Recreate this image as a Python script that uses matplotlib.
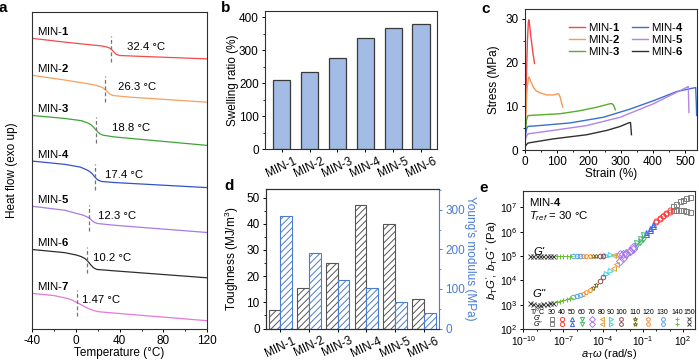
import numpy as np
import matplotlib
matplotlib.use("Agg")
import matplotlib.pyplot as plt
from matplotlib.ticker import MultipleLocator, FixedLocator, NullFormatter

plt.rcParams['font.family'] = ['Liberation Sans', 'DejaVu Sans']
plt.rcParams['mathtext.fontset'] = 'custom'
plt.rcParams['mathtext.rm'] = 'Liberation Sans'
plt.rcParams['mathtext.it'] = 'Liberation Sans:italic'
plt.rcParams['mathtext.bf'] = 'Liberation Sans:bold'
plt.rcParams['font.size'] = 8.5
plt.rcParams['axes.unicode_minus'] = False
plt.rcParams['axes.linewidth'] = 0.8
plt.rcParams['axes.edgecolor'] = '#303030'
plt.rcParams['xtick.major.size'] = 2.5
plt.rcParams['ytick.major.size'] = 2.5
plt.rcParams['xtick.minor.size'] = 1.5
plt.rcParams['ytick.minor.size'] = 1.5
plt.rcParams['xtick.major.width'] = 0.7
plt.rcParams['ytick.major.width'] = 0.7
plt.rcParams['xtick.major.pad'] = 2
plt.rcParams['ytick.major.pad'] = 2
plt.rcParams['hatch.linewidth'] = 0.7

# ---------------- data ----------------
# (a) DSC traces, heat flow in arbitrary units (offset stacked)
dsc_names = ['1', '2', '3', '4', '5', '6', '7']
dsc_colors = ['#f24a4a', '#f5a060', '#3fa33a', '#3452c4', '#a87ae6', '#2e2e2e', '#e27ad9']
dsc_T = [
    [-40, -10, 10, 24, 28, 31, 33, 35, 37, 40, 60, 120],
    [-40, -10, 10, 18, 22, 25, 27, 29, 31, 34, 50, 120],
    [-40, -10, 5, 11, 14, 16, 18, 20, 22, 25, 35, 120],
    [-40, -10, 4, 10, 13, 15, 17, 19, 21, 24, 35, 120],
    [-40, -10, 1, 6, 9, 11, 13, 15, 17, 20, 35, 120],
    [-40, -10, 1, 5, 8, 10, 12, 14, 16, 19, 35, 120],
    [-40, -20, -8, -3, 1, 5, 9, 13, 17, 21, 40, 120],
]
dsc_h = [
    [291.3, 287.5, 285.2, 283.6, 282.7, 281.5, 279.8, 277.3, 275.2, 274.1, 273.2, 270.7],
    [254.3, 249.5, 246.0, 244.3, 243.0, 241.5, 239.8, 237.5, 235.5, 234.0, 232.3, 227.3],
    [214.0, 211.0, 208.8, 206.5, 204.5, 202.5, 200.0, 197.5, 195.6, 194.2, 192.5, 184.0],
    [168.3, 165.0, 162.3, 159.5, 157.5, 155.5, 152.8, 150.3, 148.8, 147.8, 146.8, 141.7],
    [123.0, 119.0, 115.7, 114.3, 113.0, 112.0, 110.5, 108.5, 106.8, 105.7, 104.0, 96.7],
    [79.7, 76.5, 74.0, 72.5, 70.8, 69.0, 66.5, 63.8, 61.5, 59.7, 58.3, 51.3],
    [35.7, 33.5, 30.7, 28.8, 26.5, 24.2, 21.8, 19.8, 18.3, 17.3, 15.5, 8.3],
]
tg = [32.4, 26.3, 18.8, 17.4, 12.3, 10.2, 1.47]

# (b) swelling ratio
samples = ['MIN-1', 'MIN-2', 'MIN-3', 'MIN-4', 'MIN-5', 'MIN-6']
swelling = [210, 235, 277, 336, 366, 380]

# (c) stress-strain curves
ss_colors = ['#f04848', '#f59a55', '#5aab2e', '#3a70d0', '#b383ec', '#303030']
strain = [
    [0, 3, 6, 9, 12, 13.5, 16, 20, 26, 31],
    [0, 4, 8, 12, 14, 20, 27.5, 35, 48, 69, 90, 106, 111, 119],
    [0, 3, 6, 10, 14, 48, 111, 173, 225, 267, 272, 277, 283],
    [0, 3, 7, 11, 48, 142, 246, 330, 402, 475, 527, 533, 535, 536],
    [0, 3, 8, 11, 90, 194, 298, 402, 465, 507, 510, 512],
    [0, 3, 8, 11, 90, 194, 257, 298, 324, 330, 332, 333],
]
stress = [
    [0, 8, 17, 25, 29.3, 29.8, 28.5, 25.8, 22.3, 19.8],
    [0, 8, 14, 16.4, 16.7, 15.6, 14.4, 13.6, 13.1, 12.6, 12.6, 12.9, 12.1, 9.8],
    [0, 4, 6.8, 7.8, 7.9, 8.05, 8.3, 9.0, 9.8, 10.6, 10.6, 10.3, 9.2],
    [0, 3.5, 5.0, 5.4, 5.6, 6.2, 7.5, 9.4, 11.3, 13.4, 14.2, 14.3, 10.5, 7.9],
    [0, 2.5, 3.4, 3.7, 4.5, 5.6, 7.5, 10.6, 12.9, 14.4, 14.5, 8.6],
    [0, 0.9, 1.4, 1.6, 2.55, 3.5, 4.5, 5.4, 6.2, 6.3, 4.5, 3.5],
]

# (d) toughness and Young's modulus
toughness = [7.2, 15.3, 25.0, 47.3, 39.8, 11.3]
modulus = [285, 191, 122, 103, 67, 39]

# (e) master curve of MIN-4, log10 values
log_aw = [-9.5, -9.25, -9.0, -8.75, -8.5, -8.25, -8.0, -7.75, -7.5, -7.25,
          -7.0, -6.75, -6.5, -6.25, -6.0, -5.75, -5.5, -5.25, -5.0, -4.75,
          -4.5, -4.25, -4.0, -3.75, -3.5, -3.25, -3.0, -2.75, -2.5, -2.25,
          -2.0, -1.75, -1.5, -1.25, -1.0, -0.75, -0.5, -0.25, 0.0, 0.25,
          0.5, 0.75, 1.0, 1.25, 1.5, 1.75, 2.0, 2.25, 2.5]
log_gp = [5.0, 5.0, 5.0, 5.0, 5.0, 5.0, 5.0, 5.0, 5.0, 5.0,
          5.0, 5.0, 5.0, 5.0, 5.0, 5.0, 5.0, 5.0, 5.0, 5.0,
          5.0, 5.01, 5.01, 5.02, 5.03, 5.04, 5.05, 5.07, 5.09, 5.13,
          5.20, 5.29, 5.41, 5.56, 5.72, 5.90, 6.07, 6.24, 6.39, 6.52,
          6.64, 6.77, 6.91, 7.05, 7.16, 7.25, 7.32, 7.38, 7.43]
log_gpp = [3.06, 3.02, 3.00, 3.00, 3.02, 3.04, 3.06, 3.09, 3.12, 3.16,
           3.20, 3.24, 3.29, 3.32, 3.36, 3.40, 3.45, 3.52, 3.60, 3.70,
           3.83, 3.97, 4.12, 4.26, 4.40, 4.53, 4.67, 4.80, 4.94, 5.08,
           5.22, 5.37, 5.54, 5.70, 5.86, 6.01, 6.16, 6.30, 6.43, 6.55,
           6.66, 6.75, 6.83, 6.88, 6.90, 6.91, 6.90, 6.86, 6.81]
temps = [30, 40, 50, 60, 70, 80, 90, 100, 110, 120, 130, 140, 150]
pts_per_temp = [6, 5, 3, 3, 5, 2, 2, 2, 2, 3, 3, 5, 8]
temp_markers = ['s', 'o', '^', 'v', 'D', '<', '>', 'h', '*', 'p', 'H', '+', 'x']
temp_colors = ['#808080', '#ff3b3b', '#3a62e0', '#3fb36a', '#a878f0', '#e0a23a',
               '#3fd3e3', '#8e4f55', '#7f7420', '#ff8a2a', '#5ea2e6', '#62c42a', '#404040']

blue = '#4a7cd0'
x6 = np.arange(len(samples))

fig = plt.figure(figsize=(6.99, 3.6), dpi=100)

# ---------------- (a) ----------------
ax = fig.add_axes([0.0458, 0.0861, 0.2508, 0.8814])
tg_dx = [14.4, 12.6, 14.0, 9.3, 8.3, 5.8, 3.9]
for i in range(len(dsc_T)):
    ax.plot(dsc_T[i], dsc_h[i], color=dsc_colors[i], lw=0.9)
    hg = np.interp(tg[i], dsc_T[i], dsc_h[i])
    ax.plot([tg[i], tg[i]], [hg - 13, hg + 13], color='0.45', lw=0.9, ls=(0, (3, 2)))
    ax.text(-35.5, dsc_h[i][0] + 7, 'MIN-$\\mathbf{%s}$' % dsc_names[i], va='center', ha='left', fontsize=8.2)
    ax.text(tg[i] + tg_dx[i], hg + 2.5, f'{tg[i]} °C', va='center', ha='left', fontsize=8.2)
ax.set_xlim(-40, 120)
ax.set_ylim(0, 318)
ax.set_yticks([])
ax.xaxis.set_major_locator(MultipleLocator(40))
ax.xaxis.set_minor_locator(MultipleLocator(20))
ax.set_xlabel('Temperature (°C)')
ax.set_ylabel('Heat flow (exo up)')
ax.xaxis.set_label_coords(0.5, -0.056)
ax.yaxis.set_label_coords(-0.08, 0.5)

# ---------------- (b) ----------------
ax = fig.add_axes([0.3791, 0.5861, 0.2465, 0.3842])
ax.bar(x6, swelling, width=0.62, color='#a2bce6', edgecolor='#3a3a3a', lw=0.9)
ax.set_xlim(-0.6, 5.58)
ax.set_ylim(0, 420)
ax.set_xticks(x6)
ax.set_xticklabels(samples, rotation=25, ha='center')
ax.yaxis.set_major_locator(MultipleLocator(100))
ax.yaxis.set_minor_locator(MultipleLocator(50))
ax.set_ylabel('Swelling ratio (%)')
ax.yaxis.set_label_coords(-0.15, 0.5)

# ---------------- (c) ----------------
ax = fig.add_axes([0.7504, 0.5833, 0.2467, 0.3909])
for i in range(len(strain)):
    ax.plot(strain[i], stress[i], color=ss_colors[i], lw=1.0,
            label='MIN-$\\mathbf{%d}$' % (i + 1))
ax.set_xlim(0, 537)
ax.set_ylim(0, 32.2)
ax.xaxis.set_major_locator(MultipleLocator(100))
ax.xaxis.set_minor_locator(MultipleLocator(50))
ax.yaxis.set_major_locator(MultipleLocator(10))
ax.yaxis.set_minor_locator(MultipleLocator(5))
ax.set_xlabel('Strain (%)')
ax.set_ylabel('Stress (MPa)')
ax.xaxis.set_label_coords(0.5, -0.13)
ax.yaxis.set_label_coords(-0.142, 0.5)
ax.legend(ncol=2, frameon=False, loc='upper left', bbox_to_anchor=(0.26, 0.915),
          handlelength=1.4, handletextpad=0.25, columnspacing=1.0,
          labelspacing=0.0, borderaxespad=0, borderpad=0, fontsize=8.2)

# ---------------- (d) ----------------
ax = fig.add_axes([0.3805, 0.0875, 0.2475, 0.3875])
w = 0.41
ax.bar(x6 - w / 2, toughness, w, facecolor='white', edgecolor='#555555',
       hatch='/////', lw=0.8)
ax.set_xlim(-0.5, 5.53)
ax.set_ylim(0, 53.3)
ax.set_xticks(x6)
ax.set_xticklabels(samples, rotation=25, ha='center')
ax.yaxis.set_major_locator(MultipleLocator(10))
ax.yaxis.set_minor_locator(MultipleLocator(5))
ax.set_ylabel('Toughness (MJ/m$^3$)')
ax.yaxis.set_label_coords(-0.145, 0.5)
ax.spines['right'].set_visible(False)
ax2 = ax.twinx()
ax2.bar(x6 + w / 2, modulus, w, facecolor='white', edgecolor=blue,
        hatch='/////', lw=0.8)
ax2.set_ylim(0, 353)
ax2.yaxis.set_major_locator(MultipleLocator(100))
ax2.yaxis.set_minor_locator(MultipleLocator(50))
ax2.spines['right'].set_color(blue)
ax2.tick_params(axis='y', which='both', colors=blue)
ax2.set_ylabel("Young's modulus (MPa)", color=blue, rotation=270, va='center')
ax2.yaxis.set_label_coords(1.18, 0.5)

# ---------------- (e) ----------------
ax = fig.add_axes([0.7486, 0.0861, 0.2461, 0.3842])
aw = 10.0 ** np.array(log_aw)
gp = 10.0 ** np.array(log_gp)
gpp = 10.0 ** np.array(log_gpp)
end = len(aw)
for k in range(len(temps)):
    start = end - pts_per_temp[k]
    sl = slice(start, end)
    for g in (gp, gpp):
        if temp_markers[k] in ('+', 'x'):
            ax.plot(aw[sl], g[sl], ls='none', marker=temp_markers[k], ms=3.6,
                    mew=0.7, color=temp_colors[k])
        else:
            ax.plot(aw[sl], g[sl], ls='none', marker=temp_markers[k], ms=3.6,
                    mew=0.7, mfc='none', mec=temp_colors[k])
    end = start
ax.set_xscale('log')
ax.set_yscale('log')
ax.set_xlim(1e-10, 8.4e2)
ax.set_ylim(1e2, 4.9e7)
ax.xaxis.set_major_locator(FixedLocator([1e-10, 1e-7, 1e-4, 1e-1, 1e2]))
ax.xaxis.set_minor_locator(FixedLocator([10.0 ** p for p in range(-10, 3)]))
ax.xaxis.set_minor_formatter(NullFormatter())
ax.yaxis.set_major_locator(FixedLocator([10.0 ** p for p in range(2, 8)]))
ax.yaxis.set_minor_locator(FixedLocator([]))
ax.tick_params(axis='y', labelsize=7.6, pad=1.5)
ax.tick_params(axis='x', labelsize=7.4, pad=1)
ax.set_xlabel('$a_\\mathrm{T}\\omega$ (rad/s)', fontsize=8)
ax.set_ylabel("$b_\\mathrm{T}G'$, $b_\\mathrm{T}G''$ (Pa)", fontsize=8.2)
ax.xaxis.set_label_coords(0.5, -0.133)
ax.yaxis.set_label_coords(-0.138, 0.5)
ax.text(0.033, 0.918, 'MIN-$\\mathbf{4}$', transform=ax.transAxes, va='center', fontsize=8.2)
ax.text(0.033, 0.817, '$T_{ref}$ = 30 °C', transform=ax.transAxes, va='center', fontsize=8.2)
ax.text(0.057, 0.56, "G'", transform=ax.transAxes, va='center', style='italic', fontsize=8.2)
ax.text(0.054, 0.25, "G''", transform=ax.transAxes, va='center', style='italic', fontsize=8.2)
# temperature key
key_x = [0.165, 0.223, 0.281, 0.34, 0.398, 0.456, 0.508, 0.568, 0.649, 0.727, 0.81, 0.895, 0.965]
ax.text(0.083, 0.118, 'T/°C', transform=ax.transAxes, ha='center', va='center', fontsize=5)
ax.text(0.083, 0.074, "G'", transform=ax.transAxes, ha='center', va='center', fontsize=5, style='italic')
ax.text(0.083, 0.034, "G''", transform=ax.transAxes, ha='center', va='center', fontsize=5, style='italic')
for k in range(len(temps)):
    ax.text(key_x[k], 0.118, str(temps[k]), transform=ax.transAxes, ha='center', va='center', fontsize=5)
    for yy in (0.074, 0.034):
        if temp_markers[k] in ('+', 'x'):
            ax.plot([key_x[k]], [yy], transform=ax.transAxes, ls='none', marker=temp_markers[k],
                    ms=3.0, mew=0.7, color=temp_colors[k])
        else:
            ax.plot([key_x[k]], [yy], transform=ax.transAxes, ls='none', marker=temp_markers[k],
                    ms=3.0, mew=0.7, mfc='none', mec=temp_colors[k])

# panel letters
for letter, (px, py) in zip('abcde', [(3, 8), (226, 8), (486, 9), (229, 186), (484, 188)]):
    fig.text(px / 699, 1 - py / 360, letter, fontsize=11, fontweight='bold', ha='center', va='center')

fig.savefig('out.png', dpi=100)
